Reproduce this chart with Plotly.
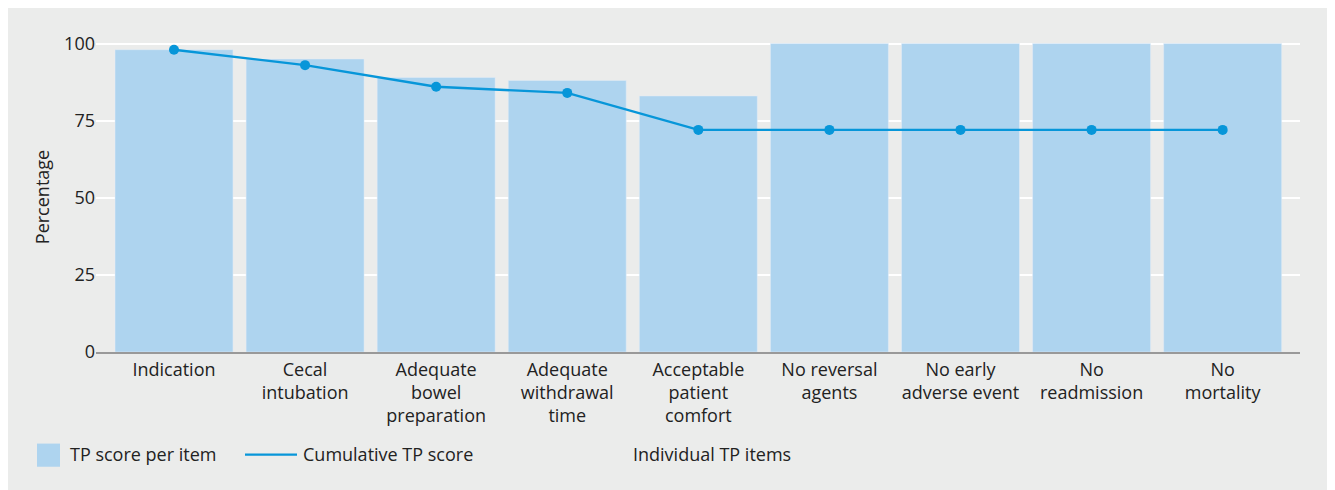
import plotly.graph_objects as go

categories = ["Indication", "Cecal<br>intubation", "Adequate<br>bowel<br>preparation",
              "Adequate<br>withdrawal<br>time", "Acceptable<br>patient<br>comfort",
              "No reversal<br>agents", "No early<br>adverse event", "No<br>readmission",
              "No<br>mortality"]
item_scores = [98, 95, 89, 88, 83, 100, 100, 100, 100]
cumulative_scores = [98, 93, 86, 84, 72, 72, 72, 72, 72]
y_ticks = [0, 25, 50, 75, 100]

BAR = "#aed4ef"
LINE = "#0796d9"
BG = "#ebeceb"
FONT = "Open Sans, Noto Sans, sans-serif"
TXT = "#222222"
FS = 18

# page offset (body margin) and plot-area geometry in page pixels
OFF = 8
PL, PR, PT, PB = 96, 1300, 44, 352
W, H = 1335 - OFF, 490 - OFF
pw, ph = PR - PL, PB - PT


def px(x):
    return (x - PL) / pw


def py(y):
    return (PB - y) / ph


x_idx = list(range(len(categories)))

fig = go.Figure()
fig.add_trace(go.Bar(x=x_idx, y=item_scores, marker_color=BAR, width=0.9,
                     name="TP score per item", showlegend=False))
fig.add_trace(go.Scatter(x=x_idx, y=cumulative_scores, mode="lines+markers",
                         line=dict(color=LINE, width=2.4),
                         marker=dict(color=LINE, size=10),
                         name="Cumulative TP score", showlegend=False))

# manual legend
fig.add_shape(type="rect", xref="paper", yref="paper",
              x0=px(37), x1=px(60), y0=py(466), y1=py(443),
              fillcolor=BAR, line_width=0)
fig.add_shape(type="line", xref="paper", yref="paper",
              x0=px(245), x1=px(297), y0=py(454), y1=py(454),
              line=dict(color=LINE, width=2.4))
for label, x0 in [("TP score per item", 68), ("Cumulative TP score", 301),
                  ("Individual TP items", 631)]:
    fig.add_annotation(text=label, xref="paper", yref="paper",
                       x=px(x0), y=py(453), xanchor="left", yanchor="middle",
                       showarrow=False, font=dict(family=FONT, size=FS, color=TXT))

fig.update_layout(
    width=W, height=H,
    margin=dict(l=PL - OFF, r=W - (PR - OFF), t=PT - OFF - 0.5 * ph / 100, b=H - (PB - OFF)),
    paper_bgcolor=BG, plot_bgcolor=BG,
    font=dict(family=FONT, size=FS, color=TXT),
    bargap=0.1,
)
fig.update_xaxes(range=[-0.595, 8.59], tickmode="array", tickvals=x_idx,
                 ticktext=categories, showgrid=False, zeroline=False,
                 showline=True, linecolor="#999999", linewidth=2,
                 ticks="", tickfont=dict(family=FONT, size=FS, color=TXT))
fig.update_yaxes(range=[0, 100.5], tickmode="array", tickvals=y_ticks,
                 showgrid=True, gridcolor="white", gridwidth=2, zeroline=False,
                 ticks="", tickfont=dict(family=FONT, size=FS, color=TXT),
                 title=dict(text="Percentage", font=dict(family=FONT, size=FS, color=TXT),
                            standoff=9))

fig.write_html("out.html")
